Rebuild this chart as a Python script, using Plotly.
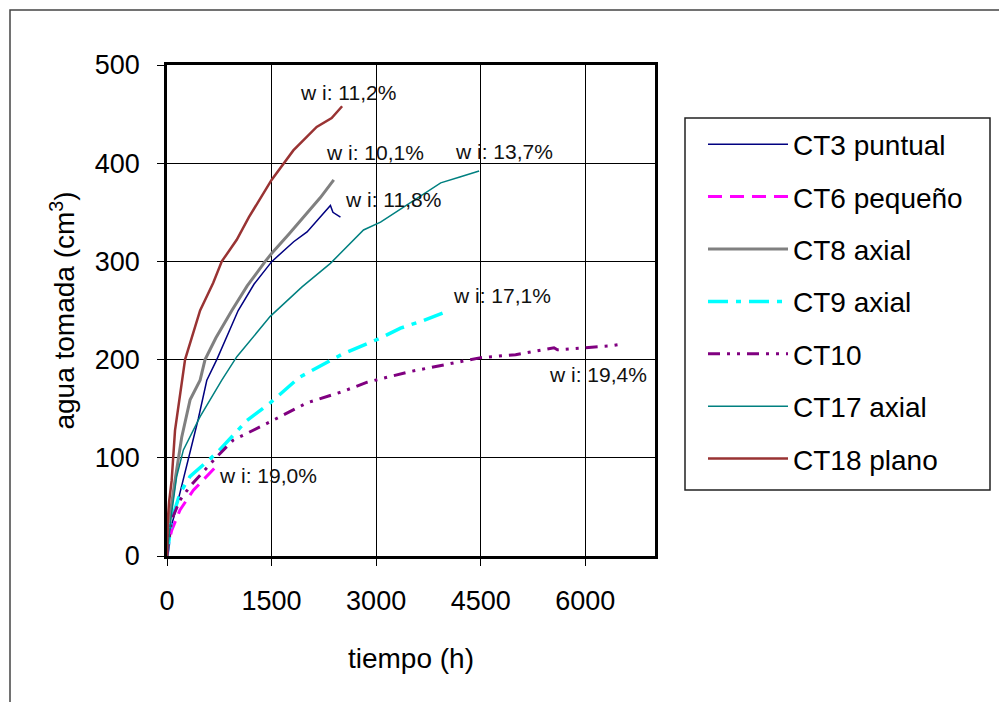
import plotly.graph_objects as go

# ---- data ----
ct3_x = [0, 40, 115, 232, 307, 450, 571, 714, 1021, 1250, 1505, 1817, 2009, 2200, 2344, 2380, 2420, 2488]
ct3_y = [0, 25, 44, 77, 101, 140, 179, 200, 250, 277, 300, 320, 330, 345, 357, 350, 348, 345]

ct6_x = [0, 30, 67, 187, 378, 550, 690]
ct6_y = [0, 15, 26, 47, 67, 80, 90]

ct8_x = [0, 30, 115, 211, 331, 475, 546, 700, 930, 1150, 1409, 1500, 1750, 1959, 2200, 2392]
ct8_y = [0, 35, 77, 121, 159, 179, 200, 222, 250, 275, 300, 308, 328, 345, 365, 383]

ct9_x = [0, 67, 187, 331, 714, 1146, 1481, 1900, 2500, 3063, 3350, 3683, 4046]
ct9_y = [0, 37, 64, 81, 105, 138, 156, 182, 205, 222, 232, 240, 250]

ct10_x = [0, 67, 187, 331, 714, 949, 1434, 2009, 2500, 2872, 3500, 4000, 4501, 5000, 5551, 5600, 5800, 6370, 6550]
ct10_y = [0, 37, 57, 71, 101, 118, 135, 156, 167, 177, 188, 195, 202, 205, 212, 210, 211, 214, 216]

ct17_x = [0, 67, 139, 235, 475, 786, 1002, 1481, 1937, 2344, 2819, 3063, 3322, 3540, 3926, 4200, 4477]
ct17_y = [0, 44, 81, 108, 142, 179, 203, 244, 274, 298, 332, 340, 352, 362, 380, 386, 392]

ct18_x = [0, 10, 30, 67, 115, 211, 259, 475, 662, 786, 1000, 1175, 1500, 1812, 2147, 2362, 2512]
ct18_y = [0, 35, 55, 77, 128, 179, 200, 250, 278, 300, 322, 345, 383, 413, 437, 446, 458]

series_names = ["CT3 puntual", "CT6 pequeño", "CT8 axial", "CT9 axial", "CT10", "CT17 axial", "CT18 plano"]
series_x = [ct3_x, ct6_x, ct8_x, ct9_x, ct10_x, ct17_x, ct18_x]
series_y = [ct3_y, ct6_y, ct8_y, ct9_y, ct10_y, ct17_y, ct18_y]
series_color = ["#000080", "#FF00FF", "#808080", "#00FFFF", "#800080", "#008080", "#993333"]
series_width = [1.5, 3, 3, 3.5, 3, 1.5, 2.5]
series_dash = ["solid", "14px,8px", "solid", "20px,8px,5px,8px", "12px,7px,3px,7px,3px,7px", "solid", "solid"]

ann_text = ["w i: 11,2%", "w i: 10,1%", "w i: 13,7%", "w i: 11,8%", "w i: 17,1%", "w i: 19,4%", "w i: 19,0%"]
ann_x = [2596, 2984, 4834, 3242, 4801, 6183, 1449]
ann_y = [472, 411, 412, 363, 265, 185, 82]

x_ticks = [0, 1500, 3000, 4500, 6000]
y_ticks = [0, 100, 200, 300, 400, 500]

FONT = "Arial, 'Liberation Sans', sans-serif"

fig = go.Figure()
for i in range(len(series_names)):
    fig.add_trace(go.Scatter(
        x=series_x[i], y=series_y[i], mode="lines", name=series_names[i],
        legendgroup=f"g{i}",
        line=dict(color=series_color[i], width=series_width[i], dash=series_dash[i]),
    ))

for t, x, y in zip(ann_text, ann_x, ann_y):
    fig.add_annotation(x=x, y=y, text=t, showarrow=False,
                       font=dict(family=FONT, size=21, color="#111111"),
                       xanchor="center", yanchor="middle")

W, H = 999, 702
L, R, T, B = 167, 655, 65, 556
pw, ph = R - L, B - T

def px_x(p):
    return (p - L) / pw

def px_y(p):
    return (B - p) / ph

# outer chart-area frame (top and left edges visible)
fig.add_shape(type="rect", xref="paper", yref="paper",
              x0=px_x(10), x1=px_x(1010), y0=px_y(715), y1=px_y(10),
              line=dict(color="#444444", width=1.5), fillcolor="rgba(0,0,0,0)",
              layer="below")
# legend box
fig.add_shape(type="rect", xref="paper", yref="paper",
              x0=px_x(685), x1=px_x(990), y0=px_y(490), y1=px_y(118),
              line=dict(color="#222222", width=1.5), fillcolor="white",
              layer="below")

fig.update_layout(
    width=W, height=H,
    margin=dict(l=L, r=W - R, t=T, b=H - B),
    paper_bgcolor="white", plot_bgcolor="white",
    font=dict(family=FONT, size=28, color="black"),
    showlegend=True,
    legend=dict(x=px_x(703), y=px_y(119.5), xanchor="left", yanchor="top",
                borderwidth=0, bgcolor="rgba(0,0,0,0)",
                font=dict(family=FONT, size=28, color="black"),
                tracegroupgap=13, itemwidth=80, traceorder="grouped"),
    xaxis=dict(range=[0, 7000], tickmode="array", tickvals=x_ticks,
               ticks="outside", ticklen=7, tickcolor="black", tickwidth=1,
               showgrid=True, gridcolor="black", gridwidth=1,
               showline=True, linecolor="black", linewidth=2.5, mirror=True,
               zeroline=False, ticklabelstandoff=12,
               tickfont=dict(family=FONT, size=27),
               title=dict(text="tiempo (h)", font=dict(family=FONT, size=28), standoff=34)),
    yaxis=dict(range=[0, 500], tickmode="array", tickvals=y_ticks,
               ticks="outside", ticklen=7, tickcolor="black", tickwidth=1,
               showgrid=True, gridcolor="black", gridwidth=1,
               showline=True, linecolor="black", linewidth=2.5, mirror=True,
               zeroline=False, ticklabelstandoff=12,
               tickfont=dict(family=FONT, size=27),
               title=dict(text="agua tomada (cm<sup>3</sup>)", font=dict(family=FONT, size=28), standoff=12)),
)

fig.write_html("out.html")
